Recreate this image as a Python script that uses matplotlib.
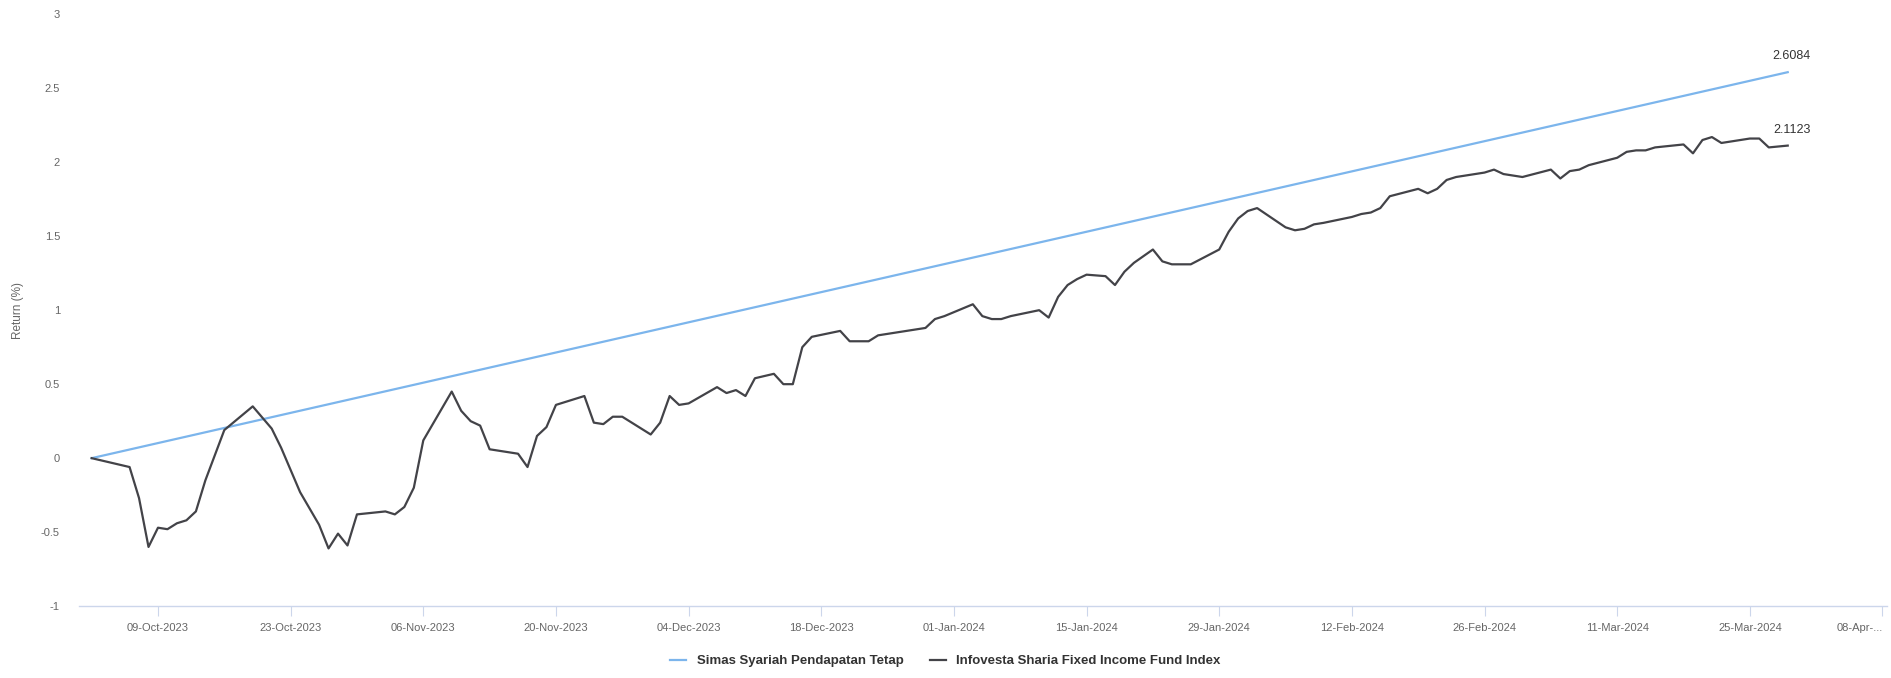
#!/usr/bin/env python3

import numpy as np
import pandas as pd
import matplotlib
matplotlib.use('Agg')
import matplotlib.pyplot as plt

plt.rcParams['font.family'] = ['Liberation Sans', 'DejaVu Sans']

# Fund: straight line from start to end.
fund_name = 'Simas Syariah Pendapatan Tetap'
fund_dates = ['2023-10-02', '2024-03-29']
fund_values = [0.0, 2.6084]

# Benchmark index.
index_name = 'Infovesta Sharia Fixed Income Fund Index'
index_dates = [
    '2023-10-02', '2023-10-06', '2023-10-07', '2023-10-08', '2023-10-09', '2023-10-10',
    '2023-10-11', '2023-10-12', '2023-10-13', '2023-10-14', '2023-10-16', '2023-10-19',
    '2023-10-21', '2023-10-22', '2023-10-24', '2023-10-26', '2023-10-27', '2023-10-28',
    '2023-10-29', '2023-10-30', '2023-11-02', '2023-11-03', '2023-11-04', '2023-11-05',
    '2023-11-06', '2023-11-09', '2023-11-10', '2023-11-11', '2023-11-12', '2023-11-13',
    '2023-11-16', '2023-11-17', '2023-11-18', '2023-11-19', '2023-11-20', '2023-11-23',
    '2023-11-24', '2023-11-25', '2023-11-26', '2023-11-27', '2023-11-30', '2023-12-01',
    '2023-12-02', '2023-12-03', '2023-12-04', '2023-12-07', '2023-12-08', '2023-12-09',
    '2023-12-10', '2023-12-11', '2023-12-13', '2023-12-14', '2023-12-15', '2023-12-16',
    '2023-12-17', '2023-12-20', '2023-12-21', '2023-12-22', '2023-12-23', '2023-12-24',
    '2023-12-27', '2023-12-28', '2023-12-29', '2023-12-30', '2023-12-31', '2024-01-03',
    '2024-01-04', '2024-01-05', '2024-01-06', '2024-01-07', '2024-01-10', '2024-01-11',
    '2024-01-12', '2024-01-13', '2024-01-14', '2024-01-15', '2024-01-17', '2024-01-18',
    '2024-01-19', '2024-01-20', '2024-01-22', '2024-01-23', '2024-01-24', '2024-01-25',
    '2024-01-26', '2024-01-29', '2024-01-30', '2024-01-31', '2024-02-01', '2024-02-02',
    '2024-02-05', '2024-02-06', '2024-02-07', '2024-02-08', '2024-02-09', '2024-02-12',
    '2024-02-13', '2024-02-14', '2024-02-15', '2024-02-16', '2024-02-19', '2024-02-20',
    '2024-02-21', '2024-02-22', '2024-02-23', '2024-02-26', '2024-02-27', '2024-02-28',
    '2024-02-29', '2024-03-01', '2024-03-04', '2024-03-05', '2024-03-06', '2024-03-07',
    '2024-03-08', '2024-03-11', '2024-03-12', '2024-03-13', '2024-03-14', '2024-03-15',
    '2024-03-18', '2024-03-19', '2024-03-20', '2024-03-21', '2024-03-22', '2024-03-25',
    '2024-03-26', '2024-03-27', '2024-03-29',
]
index_values = [
    0.00, -0.06, -0.27, -0.60, -0.47, -0.48,
    -0.44, -0.42, -0.36, -0.15, 0.19, 0.35,
    0.20, 0.07, -0.23, -0.45, -0.61, -0.51,
    -0.59, -0.38, -0.36, -0.38, -0.33, -0.20,
    0.12, 0.45, 0.32, 0.25, 0.22, 0.06,
    0.03, -0.06, 0.15, 0.21, 0.36, 0.42,
    0.24, 0.23, 0.28, 0.28, 0.16, 0.24,
    0.42, 0.36, 0.37, 0.48, 0.44, 0.46,
    0.42, 0.54, 0.57, 0.50, 0.50, 0.75,
    0.82, 0.86, 0.79, 0.79, 0.79, 0.83,
    0.86, 0.87, 0.88, 0.94, 0.96, 1.04,
    0.96, 0.94, 0.94, 0.96, 1.00, 0.95,
    1.09, 1.17, 1.21, 1.24, 1.23, 1.17,
    1.26, 1.32, 1.41, 1.33, 1.31, 1.31,
    1.31, 1.41, 1.53, 1.62, 1.67, 1.69,
    1.56, 1.54, 1.55, 1.58, 1.59, 1.63,
    1.65, 1.66, 1.69, 1.77, 1.82, 1.79,
    1.82, 1.88, 1.90, 1.93, 1.95, 1.92,
    1.91, 1.90, 1.95, 1.89, 1.94, 1.95,
    1.98, 2.03, 2.07, 2.08, 2.08, 2.10,
    2.12, 2.06, 2.15, 2.17, 2.13, 2.16,
    2.16, 2.10, 2.1123,
]

tick_dates = ['2023-10-09', '2023-10-23', '2023-11-06', '2023-11-20', '2023-12-04',
              '2023-12-18', '2024-01-01', '2024-01-15', '2024-01-29', '2024-02-12',
              '2024-02-26', '2024-03-11', '2024-03-25', '2024-04-08']
tick_labels = ['09-Oct-2023', '23-Oct-2023', '06-Nov-2023', '20-Nov-2023', '04-Dec-2023',
               '18-Dec-2023', '01-Jan-2024', '15-Jan-2024', '29-Jan-2024', '12-Feb-2024',
               '26-Feb-2024', '11-Mar-2024', '25-Mar-2024', '08-Apr-...']
y_ticks = [-1, -0.5, 0, 0.5, 1, 1.5, 2, 2.5, 3]
y_labels = ['-1', '-0.5', '0', '0.5', '1', '1.5', '2', '2.5', '3']

fund_x = pd.to_datetime(fund_dates)
index_x = pd.to_datetime(index_dates)

fig = plt.figure(figsize=(18.91, 6.78), dpi=100)
ax = fig.add_axes([0.042, 0.106, 0.956, 0.873])

ax.plot(fund_x, fund_values, color='#7cb5ec', lw=1.6, label=fund_name, zorder=3)
ax.plot(index_x, index_values, color='#434348', lw=1.6, label=index_name, zorder=3)

lab_style = dict(textcoords='offset points', ha='center', va='bottom',
                 fontsize=9, color='#333333')
ax.annotate('%.4f' % fund_values[-1], (fund_x[-1], fund_values[-1]), xytext=(3, 7), **lab_style)
ax.annotate('%.4f' % index_values[-1], (index_x[-1], index_values[-1]), xytext=(3, 7), **lab_style)

ax.set_ylim(-1, 3)
ax.set_xlim(pd.Timestamp('2023-09-30 17:00'), pd.Timestamp('2024-04-08 12:00'))
ax.set_yticks(y_ticks)
ax.set_yticklabels(y_labels)
ax.set_xticks(pd.to_datetime(tick_dates))
ax.set_xticklabels(tick_labels)
ax.get_xticklabels()[-1].set_ha('right')

for side in ['top', 'right', 'left']:
    ax.spines[side].set_visible(False)
ax.spines['bottom'].set_color('#ccd6eb')
ax.spines['bottom'].set_linewidth(1.0)
ax.tick_params(axis='x', length=7, color='#ccd6eb', labelsize=8, labelcolor='#666666', pad=5)
ax.tick_params(axis='y', length=0, labelsize=8, labelcolor='#666666', pad=14)

ax.set_ylabel('Return (%)', fontsize=8.5, color='#666666', labelpad=12)

fig.legend(loc='center', bbox_to_anchor=(0.5, 0.025), ncol=2, frameon=False,
           fontsize=9.5, handlelength=1.2, columnspacing=2.0, labelcolor='#333333',
           prop={'weight': 'bold', 'size': 9.5})

fig.savefig('out.png', dpi=100, facecolor='white')
